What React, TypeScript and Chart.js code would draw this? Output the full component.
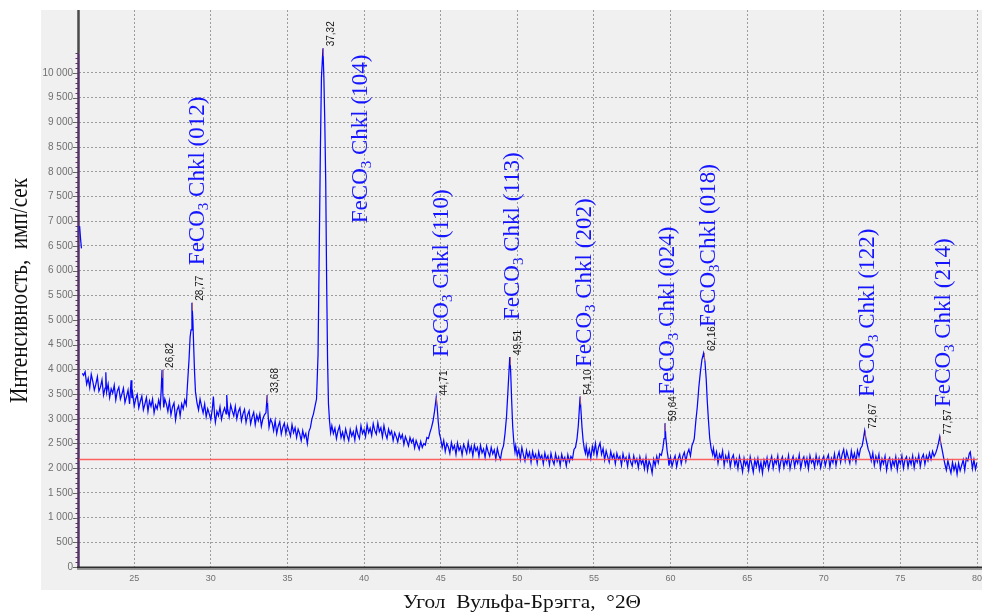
import { useEffect, useRef } from 'react';
import { Chart, registerables } from 'chart.js';

Chart.register(...registerables);

// ---- Data: diffraction scan, [angle °2Θ, intensity imp/s] ----
const scan21to30: [number, number | null][] = [
  [21.44, 6900], [21.50, 6650], [21.56, 6450], [21.58, null], [21.62, 3920], [21.7, 3880], [21.8, 3950], [21.9, 3700],
  [22.0, 3820], [22.1, 3630], [22.2, 3900], [22.3, 3760], [22.4, 3580], [22.5, 3700], [22.6, 3850], [22.7, 3560], [22.8, 3640], [22.9, 3790],
  [23.0, 3480], [23.1, 3620], [23.15, 3940], [23.2, 3540], [23.3, 3700], [23.4, 3430], [23.5, 3610], [23.6, 3520], [23.7, 3680], [23.8, 3380], [23.9, 3560],
  [24.0, 3640], [24.1, 3400], [24.2, 3500], [24.3, 3620], [24.4, 3330], [24.5, 3450], [24.6, 3580], [24.7, 3300], [24.8, 3780], [24.85, 3420], [24.9, 3520],
  [25.0, 3260], [25.1, 3400], [25.2, 3490], [25.3, 3220], [25.4, 3350], [25.5, 3460], [25.6, 3180], [25.7, 3300], [25.8, 3430], [25.9, 3150],
  [26.0, 3360], [26.1, 3250], [26.2, 3400], [26.3, 3120], [26.4, 3280], [26.5, 3200], [26.6, 3380], [26.7, 3240], [26.76, 3560], [26.82, 3990], [26.87, 3520], [26.93, 3230],
  [27.0, 3400], [27.1, 3300], [27.2, 3150], [27.3, 3360], [27.4, 3080], [27.5, 3240], [27.6, 3320], [27.7, 2980], [27.8, 3180], [27.9, 3260],
  [28.0, 3060], [28.1, 3300], [28.2, 3200], [28.3, 3380], [28.4, 3280], [28.5, 3800], [28.58, 4200], [28.65, 4650], [28.71, 4800], [28.77, 5350], [28.83, 5000], [28.88, 4500], [28.94, 3950],
  [29.0, 3550], [29.1, 3320], [29.2, 3180], [29.3, 3400], [29.4, 3250], [29.5, 3120], [29.6, 3300], [29.7, 3040], [29.8, 3200], [29.9, 3100],
];

const scan30to40: [number, number][] = [
  [30.0, 2980], [30.1, 3200], [30.17, 3450], [30.25, 3060], [30.3, 2930], [30.4, 3150], [30.5, 3060], [30.6, 3240], [30.7, 2990], [30.8, 3130], [30.9, 3220],
  [31.0, 3100], [31.04, 3480], [31.1, 3200], [31.2, 3040], [31.3, 3280], [31.4, 3160], [31.5, 3060], [31.6, 3250], [31.7, 3000], [31.8, 3150], [31.9, 3220],
  [32.0, 2960], [32.1, 3100], [32.2, 3190], [32.3, 2930], [32.4, 3080], [32.5, 3160], [32.6, 2900], [32.7, 3040], [32.8, 3130], [32.9, 2880],
  [33.0, 3070], [33.1, 2960], [33.2, 3100], [33.3, 2850], [33.4, 3000], [33.5, 3080], [33.6, 3120], [33.68, 3480], [33.74, 3080], [33.8, 2830], [33.9, 2990],
  [34.0, 2920], [34.1, 2760], [34.2, 2960], [34.3, 2700], [34.4, 2850], [34.5, 2940], [34.6, 2690], [34.7, 2830], [34.8, 2910], [34.9, 2700],
  [35.0, 2870], [35.1, 2760], [35.2, 2650], [35.3, 2880], [35.4, 2720], [35.5, 2820], [35.6, 2620], [35.7, 2790], [35.8, 2700], [35.9, 2560],
  [36.0, 2760], [36.1, 2620], [36.2, 2700], [36.3, 2500], [36.4, 2740], [36.5, 2820], [36.6, 3000], [36.7, 3100], [36.8, 3250], [36.9, 3400],
  [37.0, 4300], [37.08, 6500], [37.15, 8400], [37.22, 9900], [37.32, 10500], [37.38, 9900], [37.44, 9000], [37.5, 7800], [37.56, 5800], [37.62, 4200], [37.68, 3300], [37.75, 2950], [37.82, 2720], [37.9, 2860],
  [38.0, 2700], [38.1, 2810], [38.2, 2600], [38.3, 2760], [38.4, 2850], [38.5, 2620], [38.6, 2730], [38.7, 2580], [38.8, 2790], [38.9, 2660],
  [39.0, 2560], [39.1, 2780], [39.2, 2650], [39.3, 2740], [39.4, 2570], [39.5, 2820], [39.6, 2680], [39.7, 2600], [39.8, 2860], [39.9, 2700],
];

const scan40to50: [number, number][] = [
  [40.0, 2780], [40.1, 2640], [40.2, 2880], [40.3, 2720], [40.4, 2810], [40.5, 2660], [40.6, 2900], [40.7, 2760], [40.8, 2690], [40.9, 2920],
  [41.0, 2740], [41.1, 2820], [41.2, 2630], [41.3, 2860], [41.4, 2700], [41.5, 2600], [41.6, 2790], [41.7, 2680], [41.8, 2750], [41.9, 2560],
  [42.0, 2720], [42.1, 2640], [42.2, 2530], [42.3, 2700], [42.4, 2600], [42.5, 2680], [42.6, 2480], [42.7, 2640], [42.8, 2550], [42.9, 2450],
  [43.0, 2620], [43.1, 2520], [43.2, 2590], [43.3, 2410], [43.4, 2560], [43.5, 2470], [43.6, 2380], [43.7, 2540], [43.8, 2420], [43.9, 2500],
  [44.0, 2470], [44.1, 2620], [44.2, 2600], [44.3, 2720], [44.4, 2820], [44.5, 2950], [44.6, 3150], [44.66, 3300], [44.71, 3430], [44.77, 3250], [44.84, 2950], [44.92, 2700],
  [45.0, 2600], [45.1, 2420], [45.2, 2560], [45.3, 2340], [45.4, 2500], [45.5, 2430], [45.6, 2300], [45.7, 2520], [45.8, 2380], [45.9, 2460],
  [46.0, 2280], [46.1, 2510], [46.2, 2360], [46.3, 2440], [46.4, 2270], [46.5, 2480], [46.6, 2400], [46.7, 2300], [46.8, 2520], [46.9, 2330],
  [47.0, 2440], [47.1, 2250], [47.2, 2470], [47.3, 2350], [47.4, 2420], [47.5, 2240], [47.6, 2460], [47.7, 2310], [47.8, 2390], [47.9, 2220],
  [48.0, 2450], [48.1, 2330], [48.2, 2240], [48.3, 2420], [48.4, 2290], [48.5, 2370], [48.6, 2190], [48.7, 2400], [48.8, 2260], [48.9, 2180],
  [49.0, 2360], [49.1, 2450], [49.2, 2700], [49.3, 3050], [49.38, 3500], [49.45, 3900], [49.51, 4250], [49.57, 3950], [49.63, 3400], [49.7, 2850], [49.78, 2500], [49.85, 2330], [49.9, 2450],
];

const scan50to60: [number, number][] = [
  [50.0, 2250], [50.1, 2380], [50.2, 2180], [50.3, 2420], [50.4, 2270], [50.5, 2150], [50.6, 2360], [50.7, 2220], [50.8, 2320], [50.9, 2120],
  [51.0, 2340], [51.1, 2200], [51.2, 2280], [51.3, 2100], [51.4, 2330], [51.5, 2190], [51.6, 2260], [51.7, 2090], [51.8, 2310], [51.9, 2170],
  [52.0, 2250], [52.1, 2070], [52.2, 2300], [52.3, 2160], [52.4, 2080], [52.5, 2290], [52.6, 2140], [52.7, 2230], [52.8, 2060], [52.9, 2280],
  [53.0, 2150], [53.1, 2220], [53.2, 2050], [53.3, 2270], [53.4, 2130], [53.5, 2240], [53.6, 2180], [53.7, 2380], [53.8, 2420], [53.9, 2600],
  [53.98, 2850], [54.04, 3150], [54.1, 3450], [54.16, 3150], [54.23, 2800], [54.3, 2550], [54.38, 2380], [54.45, 2300], [54.5, 2450], [54.6, 2240], [54.7, 2380], [54.8, 2200], [54.9, 2440],
  [55.0, 2300], [55.1, 2500], [55.2, 2250], [55.3, 2420], [55.4, 2510], [55.5, 2280], [55.6, 2400], [55.7, 2170], [55.8, 2350], [55.9, 2230],
  [56.0, 2120], [56.1, 2340], [56.2, 2200], [56.3, 2280], [56.4, 2090], [56.5, 2300], [56.6, 2180], [56.7, 2240], [56.8, 2060], [56.9, 2290],
  [57.0, 2150], [57.1, 2220], [57.2, 2040], [57.3, 2270], [57.4, 2130], [57.5, 2050], [57.6, 2250], [57.7, 2110], [57.8, 2190], [57.9, 2010],
  [58.0, 2230], [58.1, 2090], [58.2, 2170], [58.3, 1990], [58.4, 2220], [58.5, 1960], [58.6, 2150], [58.7, 2060], [58.8, 1900], [58.9, 2180],
  [59.0, 2050], [59.1, 2240], [59.2, 2110], [59.3, 2290], [59.4, 2260], [59.5, 2400], [59.58, 2600], [59.64, 2910], [59.7, 2600], [59.78, 2350], [59.85, 2200], [59.9, 2050],
];

const scan60to70: [number, number][] = [
  [60.0, 2220], [60.1, 2040], [60.2, 2160], [60.3, 2250], [60.4, 2030], [60.5, 2190], [60.6, 2280], [60.7, 2090], [60.8, 2240], [60.9, 2320],
  [61.0, 2140], [61.1, 2300], [61.2, 2380], [61.3, 2250], [61.4, 2460], [61.5, 2540], [61.55, 2600], [61.65, 2950], [61.75, 3250], [61.85, 3650], [61.95, 3950],
  [62.05, 4200], [62.16, 4330], [62.25, 4150], [62.33, 3800], [62.4, 3350], [62.48, 2950], [62.56, 2600], [62.65, 2400], [62.75, 2280], [62.8, 2400], [62.9, 2200],
  [63.0, 2330], [63.1, 2100], [63.2, 2280], [63.3, 2190], [63.4, 2350], [63.5, 2060], [63.6, 2250], [63.7, 2140], [63.8, 2300], [63.9, 2030],
  [64.0, 2200], [64.1, 2270], [64.2, 2060], [64.3, 2180], [64.4, 1990], [64.5, 2240], [64.6, 2100], [64.7, 1930], [64.8, 2200], [64.9, 2060],
  [65.0, 2150], [65.1, 1960], [65.2, 2230], [65.3, 2080], [65.4, 1920], [65.5, 2170], [65.6, 2040], [65.7, 2200], [65.8, 1960], [65.9, 2120],
  [66.0, 1900], [66.1, 2160], [66.2, 2050], [66.3, 2210], [66.4, 1980], [66.5, 2130], [66.6, 2240], [66.7, 2000], [66.8, 2170], [66.9, 2090],
  [67.0, 2250], [67.1, 1970], [67.2, 2140], [67.3, 2230], [67.4, 2020], [67.5, 2180], [67.6, 2080], [67.7, 2260], [67.8, 1990], [67.9, 2150],
  [68.0, 2240], [68.1, 2030], [68.2, 2190], [68.3, 2100], [68.4, 2270], [68.5, 2000], [68.6, 2160], [68.7, 2230], [68.8, 2050], [68.9, 2200],
  [69.0, 1990], [69.1, 2250], [69.2, 2110], [69.3, 2180], [69.4, 2020], [69.5, 2260], [69.6, 2090], [69.7, 2210], [69.8, 2010], [69.9, 2170],
];

const scan70to80: [number, number][] = [
  [70.0, 2240], [70.1, 2050], [70.2, 2190], [70.3, 2270], [70.4, 2020], [70.5, 2200], [70.6, 2110], [70.7, 2290], [70.8, 2060], [70.9, 2230],
  [71.0, 2330], [71.1, 2120], [71.2, 2280], [71.3, 2380], [71.4, 2150], [71.5, 2340], [71.6, 2220], [71.7, 2100], [71.8, 2350], [71.9, 2180],
  [72.0, 2300], [72.1, 2120], [72.2, 2360], [72.3, 2240], [72.4, 2400], [72.5, 2450], [72.58, 2580], [72.67, 2760], [72.74, 2620], [72.82, 2500], [72.9, 2380],
  [73.0, 2300], [73.1, 2150], [73.2, 2310], [73.3, 2060], [73.4, 2240], [73.5, 2130], [73.6, 2280], [73.7, 2000], [73.8, 2190], [73.9, 2090],
  [74.0, 2240], [74.1, 1960], [74.2, 2150], [74.3, 2210], [74.4, 1990], [74.5, 2160], [74.6, 2050], [74.7, 2230], [74.8, 1970], [74.9, 2180],
  [75.0, 2090], [75.1, 2250], [75.2, 2000], [75.3, 2170], [75.4, 2230], [75.5, 2020], [75.6, 2190], [75.7, 2080], [75.8, 2250], [75.9, 2010],
  [76.0, 2200], [76.1, 2120], [76.2, 2270], [76.3, 2040], [76.4, 2210], [76.5, 2280], [76.6, 2080], [76.7, 2250], [76.8, 2150], [76.9, 2310],
  [77.0, 2180], [77.1, 2340], [77.2, 2240], [77.3, 2300], [77.4, 2400], [77.48, 2500], [77.57, 2640], [77.64, 2500], [77.72, 2380], [77.8, 2250], [77.9, 2090],
  [78.0, 1960], [78.1, 2150], [78.2, 2020], [78.3, 1900], [78.4, 2120], [78.5, 1960], [78.6, 2080], [78.7, 1880], [78.8, 2100], [78.9, 1950],
  [79.0, 2060], [79.1, 2170], [79.2, 1960], [79.3, 2200], [79.4, 2150], [79.5, 2300], [79.56, 2330], [79.65, 2120], [79.7, 1990], [79.8, 2170], [79.9, 1980], [80.0, 2120],
];

// Background (red) level
const backgroundLevel = 2175;

// Marked peaks
const peakAngles = [26.82, 28.77, 33.68, 37.32, 44.71, 49.51, 54.10, 59.64, 62.16, 72.67, 77.57];
const peakTops = [3990, 5350, 3480, 10500, 3430, 4250, 3450, 2910, 4330, 2760, 2640];
const peakTexts = ['26,82', '28,77', '33,68', '37,32', '44,71', '49,51', '54,10', '59,64', '62,16', '72,67', '77,57'];

// Phase identification labels: text, anchor angle, intensity at the text start
const phaseTexts = [
  'FeCO₃ Chkl (012)', 'FeCO₃ Chkl (104)', 'FeCO₃ Chkl (110)', 'FeCO₃ Chkl (113)', 'FeCO₃ Chkl (202)',
  'FeCO₃ Chkl (024)', 'FeCO₃Chkl (018)', 'FeCO₃ Chkl (122)', 'FeCO₃ Chkl (214)',
];
const phaseAngles = [29.10, 39.68, 44.96, 49.60, 54.30, 59.72, 62.39, 72.77, 77.73];
const phaseStarts = [6110, 6960, 4250, 5000, 4050, 3480, 4860, 3440, 3240];

// Axes
const xTicks = [25, 30, 35, 40, 45, 50, 55, 60, 65, 70, 75, 80];
const yTicks = [0, 500, 1000, 1500, 2000, 2500, 3000, 3500, 4000, 4500, 5000, 5500, 6000, 6500, 7000, 7500, 8000, 8500, 9000, 9500, 10000];
const xMin = 21.4;
const xMax = 80;
const yMax = 11275;
const xTitle = 'Угол  Вульфа-Брэгга,  °2Θ';
const yTitle = 'Интенсивность,  имп/сек';

function fmtThousands(v: number): string {
  if (v >= 1000) return Math.floor(v / 1000) + ' ' + String(v % 1000).padStart(3, '0');
  return String(v);
}

const decorPlugin = {
  id: 'decor',
  beforeDraw(chart: any) {
    const ctx = chart.ctx as CanvasRenderingContext2D;
    ctx.save();
    ctx.fillStyle = '#ffffff';
    ctx.fillRect(0, 0, chart.width, chart.height);
    ctx.fillStyle = '#f0f0f0';
    ctx.fillRect(41, 10, chart.width - 41, 580);
    ctx.restore();
  },
  beforeDatasetsDraw(chart: any) {
    const ctx = chart.ctx as CanvasRenderingContext2D;
    const { left, top, bottom } = chart.chartArea;
    const y = chart.scales.y;
    ctx.save();
    // minor ticks on y axis
    ctx.strokeStyle = '#5a3a66';
    ctx.lineWidth = 1;
    for (let v = 100; v <= 10400; v += 100) {
      const py = Math.round(y.getPixelForValue(v)) + 0.5;
      ctx.beginPath();
      ctx.moveTo(left - 3.5, py);
      ctx.lineTo(left, py);
      ctx.stroke();
    }
    // major ticks
    ctx.strokeStyle = '#666';
    for (const v of yTicks) {
      const py = Math.round(y.getPixelForValue(v)) + 0.5;
      ctx.beginPath();
      ctx.moveTo(left - 6, py);
      ctx.lineTo(left, py);
      ctx.stroke();
    }
    // left axis
    const p104 = y.getPixelForValue(10400);
    ctx.lineWidth = 2.5;
    ctx.strokeStyle = '#4a4a4a';
    ctx.beginPath();
    ctx.moveTo(left - 0.5, top);
    ctx.lineTo(left - 0.5, p104);
    ctx.stroke();
    ctx.strokeStyle = '#553366';
    ctx.beginPath();
    ctx.moveTo(left - 0.5, p104);
    ctx.lineTo(left - 0.5, bottom + 1);
    ctx.stroke();
    // bottom axis
    ctx.strokeStyle = '#2e2e2e';
    ctx.lineWidth = 2;
    ctx.beginPath();
    ctx.moveTo(left - 2, bottom + 0.5);
    ctx.lineTo(chart.width, bottom + 0.5);
    ctx.stroke();
    ctx.strokeStyle = '#9a9a9a';
    ctx.lineWidth = 1;
    ctx.beginPath();
    ctx.moveTo(left - 2, bottom + 2.5);
    ctx.lineTo(chart.width, bottom + 2.5);
    ctx.stroke();
    ctx.restore();
  },
  afterDatasetsDraw(chart: any) {
    const ctx = chart.ctx as CanvasRenderingContext2D;
    const xs = chart.scales.x;
    const ys = chart.scales.y;
    ctx.save();
    // peak markers and angle labels
    for (let i = 0; i < peakAngles.length; i++) {
      const px = xs.getPixelForValue(peakAngles[i]);
      const py = ys.getPixelForValue(peakTops[i]);
      ctx.strokeStyle = 'rgba(175,95,95,0.9)';
      ctx.lineWidth = 1;
      ctx.beginPath();
      ctx.moveTo(Math.round(px) + 0.5, py);
      ctx.lineTo(Math.round(px) + 0.5, py + 8);
      ctx.stroke();
      ctx.save();
      ctx.translate(px + 11, py - 2);
      ctx.rotate(-Math.PI / 2);
      ctx.font = '10px "Liberation Sans", Arial, sans-serif';
      ctx.fillStyle = '#151515';
      ctx.textAlign = 'left';
      ctx.textBaseline = 'alphabetic';
      ctx.fillText(peakTexts[i], 0, 0);
      ctx.restore();
    }
    // phase labels
    const big = '23px "Liberation Serif", "Times New Roman", serif';
    const small = '15px "Liberation Serif", "Times New Roman", serif';
    for (let i = 0; i < phaseTexts.length; i++) {
      const xc = xs.getPixelForValue(phaseAngles[i]);
      const yb = ys.getPixelForValue(phaseStarts[i]);
      const parts = phaseTexts[i].split('₃');
      ctx.save();
      ctx.translate(xc + 7.5, yb);
      ctx.rotate(-Math.PI / 2);
      ctx.fillStyle = '#1515ff';
      ctx.textAlign = 'left';
      ctx.textBaseline = 'alphabetic';
      let cx = 0;
      ctx.font = big;
      ctx.fillText(parts[0], cx, 0);
      cx += ctx.measureText(parts[0]).width;
      ctx.font = small;
      ctx.fillText('3', cx, 4);
      cx += ctx.measureText('3').width;
      ctx.font = big;
      ctx.fillText(parts[1] || '', cx, 0);
      ctx.restore();
    }
    ctx.restore();
  },
  afterDraw(chart: any) {
    const ctx = chart.ctx as CanvasRenderingContext2D;
    ctx.save();
    ctx.fillStyle = '#111';
    ctx.textAlign = 'center';
    ctx.textBaseline = 'alphabetic';
    // y title
    ctx.save();
    ctx.translate(27, 290.5);
    ctx.rotate(-Math.PI / 2);
    ctx.font = '26px "Liberation Serif", "Times New Roman", serif';
    const wy = ctx.measureText(yTitle).width;
    ctx.scale(225 / wy, 1);
    ctx.fillText(yTitle, 0, 0);
    ctx.restore();
    // x title
    ctx.save();
    ctx.translate(522, 608);
    ctx.font = '18px "Liberation Serif", "Times New Roman", serif';
    const wx = ctx.measureText(xTitle).width;
    ctx.scale(238 / wx, 1);
    ctx.fillText(xTitle, 0, 0);
    ctx.restore();
    ctx.restore();
  },
};

export default function App() {
  const canvasRef = useRef<HTMLCanvasElement | null>(null);

  useEffect(() => {
    const canvas = canvasRef.current;
    if (!canvas) return;
    const scan = [...scan21to30, ...scan30to40, ...scan40to50, ...scan50to60, ...scan60to70, ...scan70to80].map(
      ([x, y]) => ({ x, y })
    );
    const chart = new Chart(canvas, {
      type: 'line',
      data: {
        datasets: [
          {
            data: [
              { x: xMin, y: backgroundLevel },
              { x: xMax, y: backgroundLevel },
            ],
            borderColor: 'rgba(255,70,70,0.85)',
            borderWidth: 1.6,
            pointRadius: 0,
            order: 0,
          },
          {
            data: scan as any,
            borderColor: '#0606ff',
            borderWidth: 1.25,
            pointRadius: 0,
            spanGaps: false,
            order: 1,
          },
        ],
      },
      options: {
        animation: false,
        responsive: false,
        devicePixelRatio: 1,
        layout: { autoPadding: false, padding: { top: 10, right: 5, left: 0, bottom: 0 } },
        plugins: { legend: { display: false }, tooltip: { enabled: false } },
        elements: { line: { tension: 0 } },
        scales: {
          x: {
            type: 'linear',
            min: xMin,
            max: xMax,
            afterBuildTicks: (s: any) => {
              s.ticks = xTicks.map((v) => ({ value: v }));
            },
            afterFit: (s: any) => {
              s.height = 49;
              s.paddingLeft = 0;
              s.paddingRight = 0;
            },
            grid: { color: '#9c9c9c', lineWidth: 1, drawTicks: false },
            border: { display: false, dash: [2, 2] },
            ticks: {
              autoSkip: false,
              maxRotation: 0,
              padding: 6,
              color: '#707070',
              font: { family: '"Liberation Sans", Arial, sans-serif', size: 9 },
              callback: (v: any) => String(v),
            },
          },
          y: {
            type: 'linear',
            min: 0,
            max: yMax,
            afterBuildTicks: (s: any) => {
              s.ticks = yTicks.map((v) => ({ value: v }));
            },
            afterFit: (s: any) => {
              s.width = 79;
              s.paddingTop = 0;
              s.paddingBottom = 0;
            },
            grid: {
              color: (c: any) => (c.tick && c.tick.value === 0 ? 'rgba(0,0,0,0)' : '#9c9c9c'),
              lineWidth: 1,
              drawTicks: false,
            },
            border: { display: false, dash: [2, 2] },
            ticks: {
              autoSkip: false,
              padding: 6,
              color: '#707070',
              font: { family: '"Liberation Sans", Arial, sans-serif', size: 10 },
              callback: (v: any) => fmtThousands(Number(v)),
            },
          },
        },
      },
      plugins: [decorPlugin],
    });
    return () => chart.destroy();
  }, []);

  return (
    <div style={{ position: 'absolute', left: 0, top: 0, width: 982, height: 616, background: '#fff' }}>
      <canvas ref={canvasRef} width={982} height={616} style={{ display: 'block', width: 982, height: 616 }} />
    </div>
  );
}
